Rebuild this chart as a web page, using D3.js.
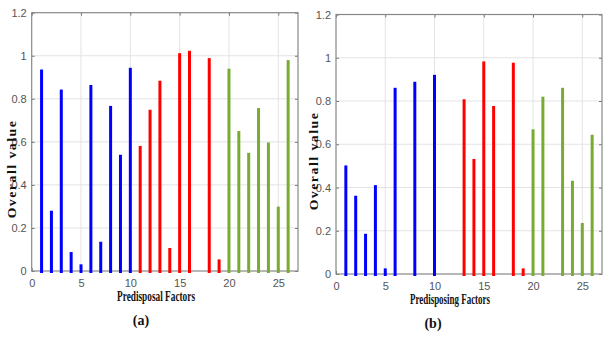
<!DOCTYPE html>
<html><head><meta charset="utf-8">
<script src="https://cdn.jsdelivr.net/npm/d3@7"></script>
<style>
body{margin:0;background:#fff;}
svg{display:block;}
.tick text{font-family:"Liberation Sans Narrow","Arial Narrow","Liberation Sans",sans-serif;font-size:11px;fill:#555;}
.ttl{font-family:"Liberation Serif","Times New Roman",serif;font-weight:bold;fill:#111;}
</style></head>
<body>
<svg id="c" width="603" height="341"></svg>
<script>
const factors = d3.range(1, 27);
const groupOf = [ "blue","blue","blue","blue","blue","blue","blue","blue","blue","blue",
  "red","red","red","red","red","red","red","red","red",
  "green","green","green","green","green","green","green"];
const valuesA = [0.936,0.280,0.843,0.088,0.031,0.864,0.136,0.767,0.540,0.944,
  0.581,0.749,0.884,0.107,1.012,1.023,null,0.989,0.054,
  0.940,0.650,0.549,0.757,0.597,0.299,0.980];
const valuesB = [0.502,0.362,0.186,0.411,0.026,0.861,null,0.889,null,0.921,
  null,null,0.808,0.532,0.983,0.777,null,0.977,0.026,
  0.669,0.820,null,0.861,0.431,0.236,0.644];
const xTicks = [0,5,10,15,20,25];
const yTicks = [0,0.2,0.4,0.6,0.8,1,1.2];
const colors = {blue:"#0000ff", red:"#ff0000", green:"#77ac30"};
const panels = [
  {vals:valuesA, xl:"Predisposal Factors", cap:"(a)", box:[31.7,298,12.7,271], ylx:15.5, yly:169, xlx:156, xlw:78, capx:141},
  {vals:valuesB, xl:"Predisposing Factors", cap:"(b)", box:[336,602,14.5,274], ylx:317.5, yly:161, xlx:450, xlw:80, capx:433}
];
const svg = d3.select("#c");
panels.forEach(p=>{
  const [x0,x1,y0,y1] = p.box;
  const x = d3.scaleLinear().domain([0,27]).range([x0,x1]);
  const y = d3.scaleLinear().domain([0,1.2]).range([y1,y0]);
  const g = svg.append("g");
  g.selectAll(".gx").data(xTicks.slice(1)).join("line")
    .attr("x1",d=>x(d)).attr("x2",d=>x(d)).attr("y1",y0).attr("y2",y1)
    .attr("stroke","#e3e3e3").attr("stroke-width",1);
  g.selectAll(".gy").data(yTicks.slice(1,-1)).join("line")
    .attr("x1",x0).attr("x2",x1).attr("y1",d=>y(d)).attr("y2",d=>y(d))
    .attr("stroke","#e3e3e3").attr("stroke-width",1);
  const ax = g.append("g").attr("transform",`translate(0,${y1})`)
    .call(d3.axisBottom(x).tickValues(xTicks).tickSize(-3).tickPadding(8).tickFormat(d3.format("d")));
  const ay = g.append("g").attr("transform",`translate(${x0},0)`)
    .call(d3.axisLeft(y).tickValues(yTicks).tickSize(-3).tickPadding(5).tickFormat(d=>d3.format("")(+d.toFixed(1))));
  const axT = g.append("g").attr("transform",`translate(0,${y0})`)
    .call(d3.axisTop(x).tickValues(xTicks).tickSize(-3).tickFormat(""));
  const ayR = g.append("g").attr("transform",`translate(${x1},0)`)
    .call(d3.axisRight(y).tickValues(yTicks).tickSize(-3).tickFormat(""));
  [ax,ay,axT,ayR].forEach(a=>{
    a.select(".domain").remove();
    a.selectAll(".tick line").attr("stroke","#777");
  });
  g.append("rect").attr("x",x0).attr("y",y0).attr("width",x1-x0).attr("height",y1-y0)
    .attr("fill","none").attr("stroke","#888").attr("stroke-width",1.2);
  const data = factors.map((f,i)=>({f, v:p.vals[i], c:groupOf[i]})).filter(d=>d.v!==null);
  g.selectAll(".stem").data(data).join("line")
    .attr("x1",d=>x(d.f)).attr("x2",d=>x(d.f))
    .attr("y1",y(0)+2).attr("y2",d=>y(d.v))
    .attr("stroke",d=>colors[d.c]).attr("stroke-width",3);
  const yl = g.append("g").attr("transform",`translate(${p.ylx},${p.yly}) rotate(-90) scale(1.15,1)`);
  yl.append("text").attr("class","ttl").attr("font-size",12)
    .attr("x",0).attr("y",0)
    .attr("text-anchor","middle")
    .style("letter-spacing","1.3px")
    .text("Overall value");
  g.append("text").attr("class","ttl").attr("font-size",15)
    .attr("x",p.xlx).attr("y",y1+30).attr("text-anchor","middle")
    .attr("textLength",p.xlw).attr("lengthAdjust","spacingAndGlyphs")
    .text(p.xl);
  g.append("text").attr("class","ttl").attr("font-size",14)
    .attr("x",p.capx).attr("y",y1+54).attr("text-anchor","middle")
    .text(p.cap);
});
</script>
</body></html>
